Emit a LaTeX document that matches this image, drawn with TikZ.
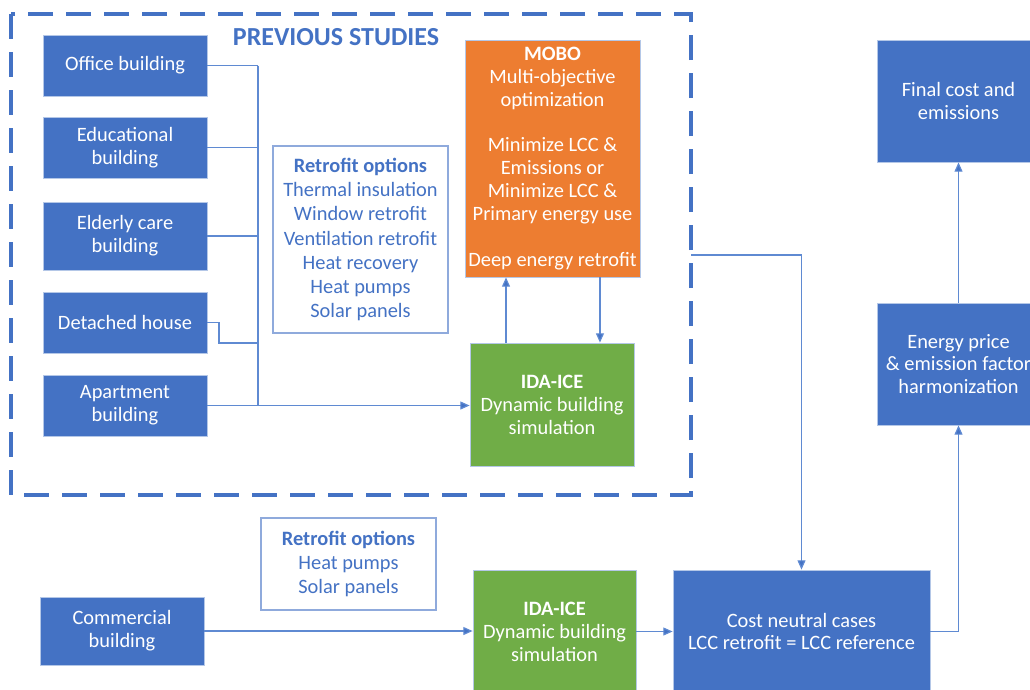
\documentclass[tikz,border=0pt]{standalone}
\usepackage{fontspec}
\setmainfont{Carlito}
\usetikzlibrary{arrows.meta}
\definecolor{bblue}{HTML}{4472C4}
\definecolor{oorange}{HTML}{ED7D31}
\definecolor{ggreen}{HTML}{70AD47}
\definecolor{lline}{HTML}{5F8AD2}
\definecolor{rborder}{HTML}{8FAADC}
\definecolor{bedge}{HTML}{B4C7E7}
\begin{document}
\begin{tikzpicture}[x=0.75pt,y=-0.75pt,
  every node/.style={font=\fontsize{15.3}{17.2}\selectfont, align=center, inner sep=0pt},
  sz/.style 2 args={minimum width=#1*0.75pt, minimum height=#2*0.75pt},
  bluebox/.style={fill=bblue, draw=bedge, line width=0.6pt, text=white},
  orangebox/.style={fill=oorange, draw=bedge, line width=0.6pt, text=white},
  greenbox/.style={fill=ggreen, draw=bedge, line width=0.6pt, text=white},
  optbox/.style={fill=white, draw=rborder, line width=0.9pt, text=bblue, font=\fontsize{15.3}{18.2}\selectfont},
  conn/.style={draw=lline, line width=0.9pt},
  arr/.style={conn, -{Triangle[length=7pt,width=6pt,fill=bblue]}},
  frame/.style={draw=bblue, line width=2.5pt, dash pattern=on 18.75pt off 9.75pt}
]
\clip (0,0) rectangle (1030,689);
\fill[white] (0,0) rectangle (1030,689);

% dashed frame
\draw[frame] (11,14) rectangle (691,495);
\node[text=bblue, font=\fontsize{19.5}{22}\selectfont\bfseries] (title) at (336,37) {PREVIOUS STUDIES};

% building boxes
\node[bluebox, sz={164}{61}] (off) at (125,65.5) {Office building};
\node[bluebox, sz={164}{61}] (edu) at (125,147.5) {Educational\\building};
\node[bluebox, sz={164}{68}] (eld) at (125,236) {Elderly care\\building};
\node[bluebox, sz={164}{61}] (det) at (125,322.5) {Detached house};
\node[bluebox, sz={164}{61}] (apt) at (125,405.5) {Apartment\\building};

% retrofit options 1
\node[optbox, sz={175}{187}] (opt1) at (360.5,239.5) {\textbf{Retrofit options}\\Thermal insulation\\Window retrofit\\Ventilation retrofit\\Heat recovery\\Heat pumps\\Solar panels};

% MOBO
\node[orangebox, sz={175}{237}] (mobo) at (552.5,158.5) {\textbf{MOBO}\\Multi-objective\\optimization\\[17.2pt]Minimize LCC \&\\Emissions or\\Minimize LCC \&\\Primary energy use\\[17.2pt]Deep energy retrofit};

% IDA-ICE 1
\node[greenbox, sz={164}{123}] (ida1) at (552,404.5) {\textbf{IDA-ICE}\\Dynamic building\\simulation};

% bottom row
\node[optbox, sz={175}{92}] (opt2) at (348.5,564) {\textbf{Retrofit options}\\Heat pumps\\Solar panels};
\node[bluebox, sz={164}{68}] (com) at (122,631) {Commercial\\building};
\node[greenbox, sz={163}{123}] (ida2) at (554.5,631.5) {\textbf{IDA-ICE}\\Dynamic building\\simulation};
\node[bluebox, sz={257}{123}] (cost) at (801.5,631.5) {Cost neutral cases\\LCC retrofit = LCC reference};

% right column
\node[bluebox, sz={163}{122}] (energy) at (958.5,364) {Energy price\\\& emission factor\\harmonization};
\node[bluebox, sz={163}{122}] (final) at (958.5,101) {Final cost and\\emissions};

% bus connectors
\coordinate (busTop) at (258,65.5);
\coordinate (busDet) at (258,343);
\coordinate (busBot) at (258,405);
\coordinate (detBend) at (219,322.5);
\draw[conn] (busTop) -- (busBot);
\draw[conn] (off.east) -- (busTop);
\draw[conn] (edu.east) -- (edu.east -| busTop);
\draw[conn] (eld.east) -- (eld.east -| busTop);
\draw[conn] (det.east) -- (detBend) |- (busDet);
\draw[arr] (apt.east) -- (apt.east -| ida1.west);

% MOBO <-> IDA
\draw[arr] ([xshift=-34.5pt]ida1.north) -- ([xshift=-34.5pt]ida1.north |- mobo.south);
\draw[arr] ([xshift=35.6pt]mobo.south) -- ([xshift=35.6pt]mobo.south |- ida1.north);

% frame exit to cost neutral
\coordinate (fexit) at (691,255);
\draw[arr] (fexit) -| (cost.north);

% bottom flow
\draw[arr] (com.east) -- (com.east -| ida2.west);
\draw[arr] (ida2.east) -- (ida2.east -| cost.west);
\draw[arr] (cost.east) -| (energy.south);
\draw[arr] (energy.north) -- (final.south);
\end{tikzpicture}
\end{document}
